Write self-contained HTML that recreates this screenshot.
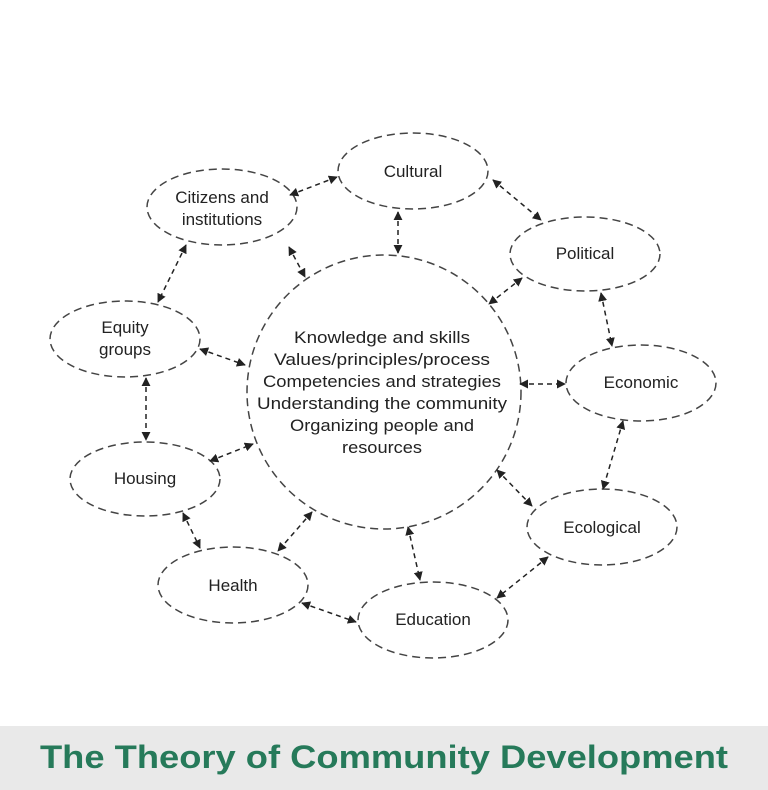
<!DOCTYPE html>
<html><head><meta charset="utf-8"><style>
html,body{margin:0;padding:0;background:#fff;}
.wrap{position:relative;width:768px;height:790px;overflow:hidden;}
</style></head><body><div class="wrap">
<svg width="768" height="790" style="position:absolute;left:0;top:0" xmlns="http://www.w3.org/2000/svg">
<defs><marker id="a" viewBox="0 0 10 10" refX="9" refY="5" markerWidth="9" markerHeight="9" orient="auto-start-reverse" markerUnits="userSpaceOnUse"><path d="M0,0 L10,5 L0,10 z" fill="#222"/></marker></defs>
<g fill="none" stroke="#444" stroke-width="1.5" stroke-dasharray="8,5">
<ellipse cx="413" cy="171" rx="75" ry="38"/>
<ellipse cx="222" cy="207" rx="75" ry="38"/>
<ellipse cx="585" cy="254" rx="75" ry="37"/>
<ellipse cx="125" cy="339" rx="75" ry="38"/>
<ellipse cx="384" cy="392" rx="137" ry="137"/>
<ellipse cx="641" cy="383" rx="75" ry="38"/>
<ellipse cx="145" cy="479" rx="75" ry="37"/>
<ellipse cx="602" cy="527" rx="75" ry="38"/>
<ellipse cx="233" cy="585" rx="75" ry="38"/>
<ellipse cx="433" cy="620" rx="75" ry="38"/>
</g>
<g stroke="#222" stroke-width="1.5" stroke-dasharray="5,4" marker-start="url(#a)" marker-end="url(#a)">
<line x1="290" y1="195" x2="337" y2="177"/>
<line x1="398" y1="212" x2="398" y2="253"/>
<line x1="493" y1="180" x2="541" y2="220"/>
<line x1="289" y1="247" x2="305" y2="277"/>
<line x1="186" y1="245" x2="158" y2="302"/>
<line x1="522" y1="278" x2="489" y2="304"/>
<line x1="601" y1="293" x2="612" y2="346"/>
<line x1="200" y1="349" x2="245" y2="365"/>
<line x1="520" y1="384" x2="565" y2="384"/>
<line x1="146" y1="378" x2="146" y2="440"/>
<line x1="210" y1="461" x2="253" y2="444"/>
<line x1="623" y1="421" x2="603" y2="489"/>
<line x1="497" y1="470" x2="532" y2="506"/>
<line x1="183" y1="513" x2="200" y2="548"/>
<line x1="312" y1="512" x2="278" y2="551"/>
<line x1="408" y1="527" x2="420" y2="580"/>
<line x1="548" y1="557" x2="497" y2="598"/>
<line x1="302" y1="603" x2="356" y2="622"/>
</g>
<g font-family="Liberation Sans,sans-serif" font-size="17" fill="#222" text-anchor="middle">
<text x="413" y="177">Cultural</text>
<text x="222" y="203">Citizens and</text>
<text x="222" y="225">institutions</text>
<text x="585" y="259">Political</text>
<text x="125" y="333">Equity</text>
<text x="125" y="355">groups</text>
<text x="641" y="388">Economic</text>
<text x="145" y="484">Housing</text>
<text x="602" y="533">Ecological</text>
<text x="233" y="591">Health</text>
<text x="433" y="625">Education</text>
<text x="382" y="343" textLength="176" lengthAdjust="spacingAndGlyphs">Knowledge and skills</text>
<text x="382" y="365" textLength="216" lengthAdjust="spacingAndGlyphs">Values/principles/process</text>
<text x="382" y="387" textLength="238" lengthAdjust="spacingAndGlyphs">Competencies and strategies</text>
<text x="382" y="409" textLength="250" lengthAdjust="spacingAndGlyphs">Understanding the community</text>
<text x="382" y="431" textLength="184" lengthAdjust="spacingAndGlyphs">Organizing people and</text>
<text x="382" y="453" textLength="80" lengthAdjust="spacingAndGlyphs">resources</text>
</g>
<rect x="0" y="726" width="768" height="64" fill="#e9e9e9"/>
<text x="384" y="768" text-anchor="middle" font-family="Liberation Sans,sans-serif" font-weight="bold" font-size="32" fill="#267a5a" textLength="688" lengthAdjust="spacingAndGlyphs">The Theory of Community Development</text>
</svg>
</div></body></html>
